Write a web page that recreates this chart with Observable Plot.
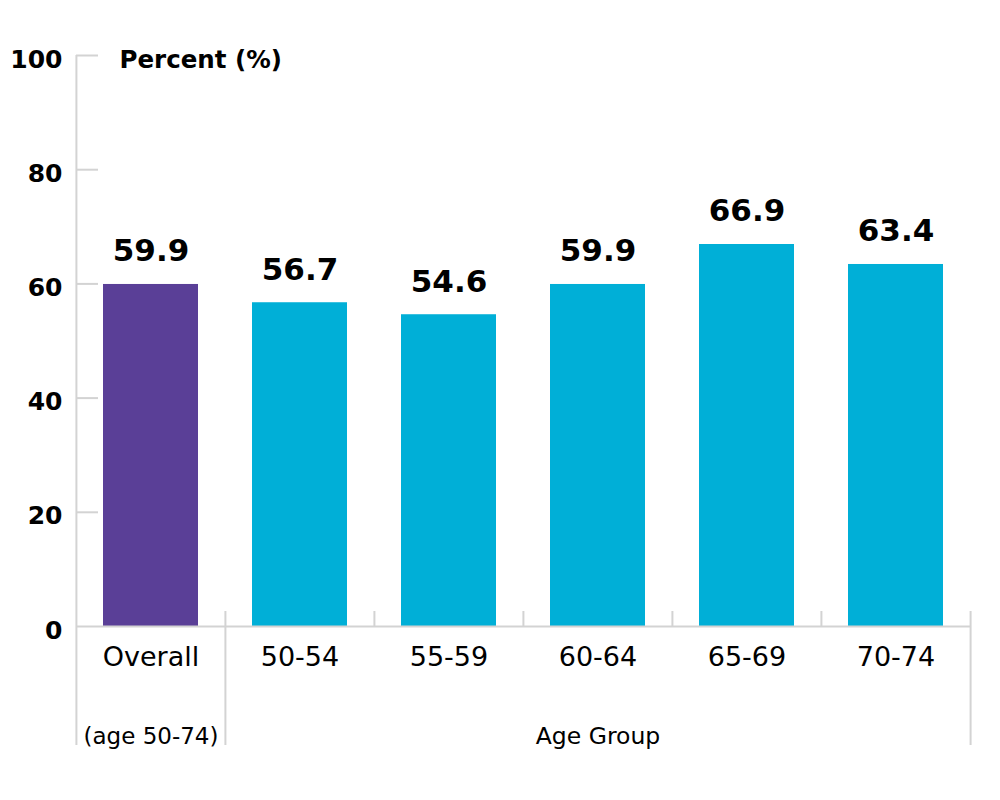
<!DOCTYPE html>
<html>
<head>
<meta charset="utf-8">
<script src="https://cdn.jsdelivr.net/npm/d3@7"></script>
<script src="https://cdn.jsdelivr.net/npm/@observablehq/plot@0.6"></script>
<style>
  html, body { margin: 0; padding: 0; background: #fff; }
</style>
</head>
<body>
<div id="chart"></div>
<script>
const groups = ["Overall", "50-54", "55-59", "60-64", "65-69", "70-74"];
const values = [59.9, 56.7, 54.6, 59.9, 66.9, 63.4];
const kinds = ["overall", "age", "age", "age", "age", "age"];
const yTicks = [0, 20, 40, 60, 80, 100];
const yLabel = "Percent (%)";
const xLabel = "Age Group";
const overallNote = "(age 50-74)";

const data = groups.map((g, i) => ({group: g, value: values[i], kind: kinds[i]}));

const W = 1000, H = 800;
const mL = 76, mR = 29, mT = 55, mB = 174;
const plotW = W - mL - mR;
const half = plotW / groups.length / 2;
const grey = "#d3d3d3";
const font = "'DejaVu Sans', sans-serif";
const pxPerUnit = (H - mT - mB) / 100;
const below = -(745 - (H - mB)) / pxPerUnit; // extension under baseline
const stub = 15 / pxPerUnit;

const chart = Plot.plot({
  width: W,
  height: H,
  marginLeft: mL,
  marginRight: mR,
  marginTop: mT,
  marginBottom: mB,
  style: {fontFamily: font, background: "#fff", color: "#000"},
  x: {domain: groups, paddingInner: 0.36, paddingOuter: 0.18, label: null},
  y: {domain: [0, 100], label: null},
  color: {domain: ["overall", "age"], range: ["#5a3f97", "#00afd7"]},
  marks: [
    Plot.ruleX([groups[0]], {x: d => d, dx: -half, y1: below, y2: 100, stroke: grey, strokeWidth: 2}),
    Plot.ruleX([groups[1]], {x: d => d, dx: -half, y1: below, y2: stub, stroke: grey, strokeWidth: 2}),
    Plot.ruleX([groups[groups.length - 1]], {x: d => d, dx: half, y1: below, y2: stub, stroke: grey, strokeWidth: 2}),
    Plot.ruleX(groups.slice(2), {x: d => d, dx: -half, y1: 0, y2: stub, stroke: grey, strokeWidth: 2}),
    Plot.ruleY(yTicks.filter(d => d > 0), {y: d => d, insetRight: plotW - 22, stroke: grey, strokeWidth: 2}),
    Plot.barY(data, {x: "group", y: "value", fill: "kind"}),
    Plot.ruleY([0], {stroke: grey, strokeWidth: 2}),
    Plot.axisY(yTicks, {tickSize: 0, tickPadding: 14, dy: 4, fontSize: 25, fontWeight: "bold", fill: "#000", label: null}),
    Plot.axisX({tickSize: 0, tickPadding: 20, fontSize: 27, fill: "#000", label: null}),
    Plot.text(data, {x: "group", y: "value", text: d => d.value.toFixed(1), dy: -33, fontSize: 31, fontWeight: "bold", fill: "#000"}),
    Plot.text([yLabel], {frameAnchor: "top-left", dx: 43, dy: 5, text: d => d, textAnchor: "start", lineAnchor: "middle", fontSize: 24.5, fontWeight: "bold", fill: "#000"}),
    Plot.text([overallNote], {x: () => groups[0], y: 0, dy: 110, text: d => d, lineAnchor: "middle", fontSize: 23, fill: "#000"}),
    Plot.text([xLabel], {x: () => groups[3], y: 0, dy: 110, text: d => d, lineAnchor: "middle", fontSize: 23.5, fill: "#000"})
  ]
});
document.getElementById("chart").appendChild(chart);
</script>
</body>
</html>
